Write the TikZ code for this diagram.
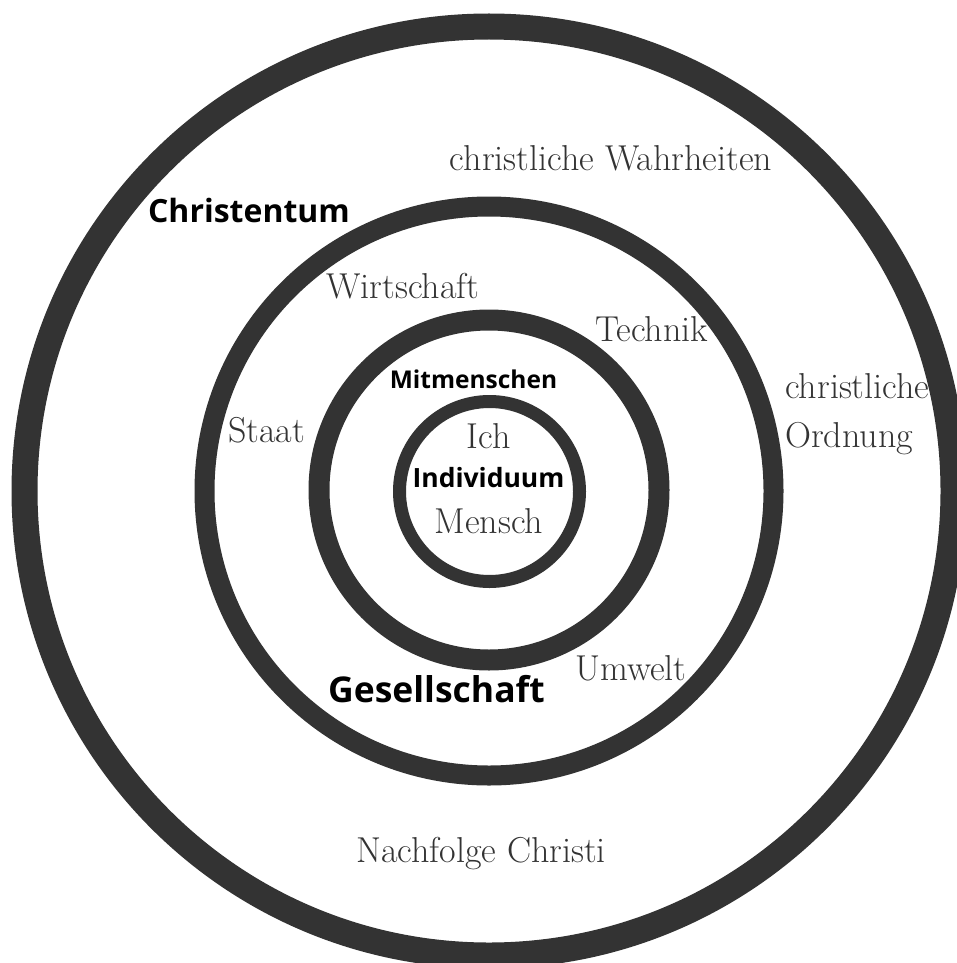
\documentclass[tikz,border=0pt]{standalone}
\usepackage{fontspec}
\newfontfamily\osans{Open Sans}
\definecolor{ringgray}{HTML}{333333}
\definecolor{txtgray}{HTML}{333333}
\tikzset{
  ring/.style={draw=ringgray},
  serif/.style={text=txtgray, inner sep=0pt, anchor=base, font=\fontsize{36}{43}\selectfont},
  bsans/.style={text=black, inner sep=0pt, anchor=base},
}
\begin{document}
\begin{tikzpicture}[x=1pt,y=-1pt]
\useasboundingbox[fill=white] (0,0) rectangle (957,963);
\coordinate (c) at (489,491);
% rings
\draw[ring, line width=26pt] (c) circle[radius=464.5pt];
\draw[ring, line width=20pt] (c) circle[radius=284.5pt];
\draw[ring, line width=21pt] (489,490) circle[radius=170pt];
\draw[ring, line width=13pt] (489.5,491.5) circle[radius=90pt];
% serif labels
\node[serif] (cw) at (611,170) {christliche Wahrheiten};
\node[serif] (wi) at (403,298) {Wirtschaft};
\node[serif] (te) at (651.5,341) {Technik};
\node[serif, anchor=base west] (co1) at (785,398) {christliche};
\node[serif, anchor=base west] (co2) at (785,447) {Ordnung};
\node[serif] (st) at (266.5,442) {Staat};
\node[serif] (ich) at (488.5,448) {Ich};
\node[serif] (me) at (489,533) {Mensch};
\node[serif] (um) at (631,680) {Umwelt};
\node[serif] (nc) at (481,862) {Nachfolge Christi};
% bold sans labels
\node[bsans, font=\osans\bfseries\fontsize{32}{38}\selectfont] (chr) at (249,222) {Christentum};
\node[bsans, font=\osans\bfseries\fontsize{24.5}{30}\selectfont] (mit) at (473.5,388) {Mitmenschen};
\node[bsans, font=\osans\bfseries\fontsize{26.5}{32}\selectfont] (ind) at (488.5,487) {Individuum};
\node[bsans, font=\osans\bfseries\fontsize{35.5}{42}\selectfont] (ges) at (436.5,702) {Gesellschaft};
\end{tikzpicture}
\end{document}
